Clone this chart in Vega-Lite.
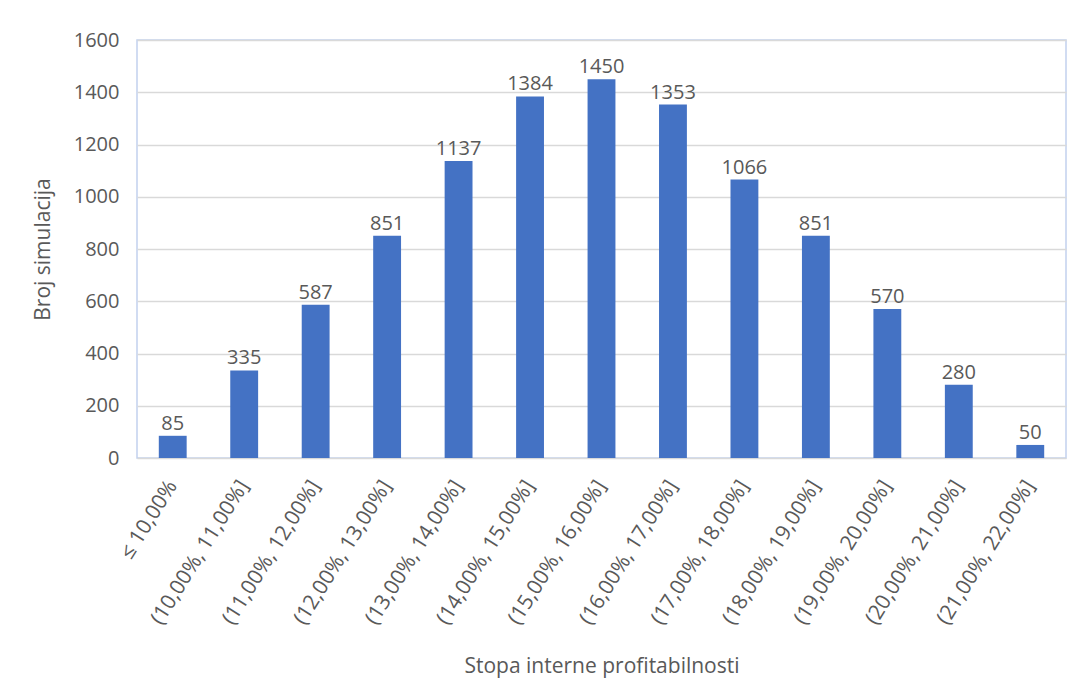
{
  "$schema": "https://vega.github.io/schema/vega-lite/v6.json",
  "width": 929,
  "height": 418,
  "autosize": {"type": "none"},
  "padding": {"left": 137, "top": 40, "right": 5, "bottom": 233},
  "background": "white",
  "config": {
    "font": "Open Sans",
    "view": {"stroke": "#c2d1ee", "strokeWidth": 1.5}
  },
  "data": {
    "values": [
      {"bin": "≤ 10,00%", "count": 85},
      {"bin": "(10,00%, 11,00%]", "count": 335},
      {"bin": "(11,00%, 12,00%]", "count": 587},
      {"bin": "(12,00%, 13,00%]", "count": 851},
      {"bin": "(13,00%, 14,00%]", "count": 1137},
      {"bin": "(14,00%, 15,00%]", "count": 1384},
      {"bin": "(15,00%, 16,00%]", "count": 1450},
      {"bin": "(16,00%, 17,00%]", "count": 1353},
      {"bin": "(17,00%, 18,00%]", "count": 1066},
      {"bin": "(18,00%, 19,00%]", "count": 851},
      {"bin": "(19,00%, 20,00%]", "count": 570},
      {"bin": "(20,00%, 21,00%]", "count": 280},
      {"bin": "(21,00%, 22,00%]", "count": 50}
    ]
  },
  "encoding": {
    "x": {
      "field": "bin",
      "type": "nominal",
      "sort": null,
      "scale": {"paddingInner": 0.61, "paddingOuter": 0.305},
      "axis": {
        "title": "Stopa interne profitabilnosti",
        "titleFontSize": 21,
        "titleFontWeight": "normal",
        "titleColor": "#595959",
        "titlePadding": 28,
        "labelAngle": -58,
        "labelFontSize": 21,
        "labelColor": "#595959",
        "labelPadding": 24,
        "labelLimit": 300,
        "ticks": false,
        "domain": false,
        "grid": false
      }
    },
    "y": {
      "field": "count",
      "type": "quantitative",
      "scale": {"domain": [0, 1600]},
      "axis": {
        "title": "Broj simulacija",
        "titleFontSize": 21,
        "titleFontWeight": "normal",
        "titleColor": "#595959",
        "titlePadding": 20,
        "values": [0, 200, 400, 600, 800, 1000, 1200, 1400, 1600],
        "format": "d",
        "labelFontSize": 20,
        "labelColor": "#595959",
        "labelPadding": 18,
        "ticks": false,
        "domain": false,
        "gridColor": "#d9d9d9",
        "gridWidth": 1.5
      }
    }
  },
  "layer": [
    {"mark": {"type": "bar", "color": "#4472C4"}},
    {
      "mark": {"type": "text", "baseline": "bottom", "dy": -2, "fontSize": 20, "color": "#595959"},
      "encoding": {"text": {"field": "count", "type": "quantitative"}}
    }
  ]
}
